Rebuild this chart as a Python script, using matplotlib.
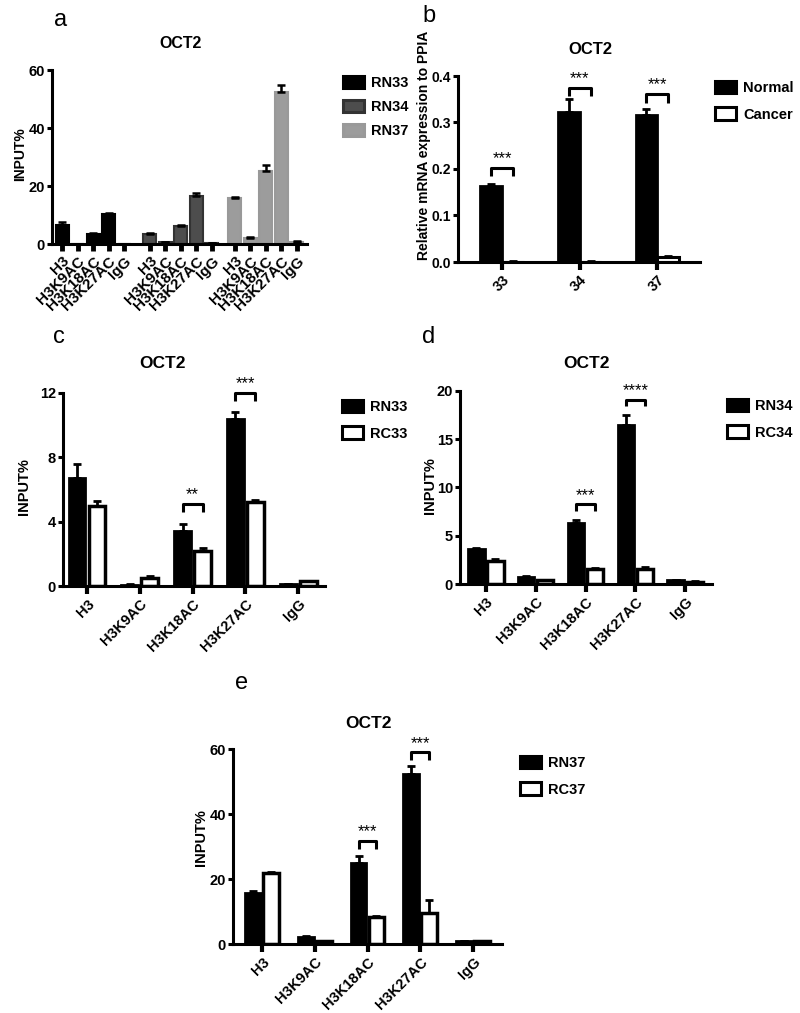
import numpy as np
import matplotlib.pyplot as plt
from matplotlib.patches import Patch

plt.rcParams['font.family'] = ['Liberation Sans', 'DejaVu Sans']
plt.rcParams['font.weight'] = 'bold'

marks = ['H3', 'H3K9AC', 'H3K18AC', 'H3K27AC', 'IgG']

# ChIP data (INPUT%)
rn33 = [6.7, 0.08, 3.4, 10.4, 0.12]
rn33_err = [0.9, 0.02, 0.45, 0.4, 0.03]
rc33 = [5.0, 0.5, 2.15, 5.2, 0.28]
rc33_err = [0.28, 0.15, 0.2, 0.15, 0.05]

rn34 = [3.6, 0.7, 6.3, 16.5, 0.4]
rn34_err = [0.15, 0.1, 0.35, 1.0, 0.05]
rc34 = [2.4, 0.4, 1.55, 1.6, 0.25]
rc34_err = [0.15, 0.05, 0.15, 0.15, 0.05]

rn37 = [15.8, 2.2, 25.0, 52.3, 0.8]
rn37_err = [0.5, 0.3, 2.1, 2.5, 0.1]
rc37 = [21.8, 0.8, 8.2, 9.5, 0.8]
rc37_err = [0.5, 0.1, 0.5, 4.1, 0.1]

# mRNA data
patients = ['33', '34', '37']
normal = [0.163, 0.322, 0.317]
normal_err = [0.004, 0.028, 0.013]
cancer = [0.001, 0.001, 0.010]
cancer_err = [0.0005, 0.0005, 0.003]

W, H = 800, 1013
fig = plt.figure(figsize=(W / 100, H / 100), dpi=100)


def make_axes(l, r, top, bottom):
    ax = fig.add_axes([l / W, 1 - bottom / H, (r - l) / W, (bottom - top) / H])
    ax.spines['top'].set_visible(False)
    ax.spines['right'].set_visible(False)
    ax.spines['left'].set_linewidth(2.2)
    ax.spines['bottom'].set_linewidth(2.2)
    ax.tick_params(axis='y', width=2.2, length=3.5, pad=1.5, labelsize=10.5)
    ax.tick_params(axis='x', width=3, length=6, pad=2)
    return ax


def ftext(x, y, s, **kw):
    fig.text(x / W, 1 - y / H, s, ha='center', va='center', **kw)


def up_err(ax, x, y, e, lw=2):
    ax.errorbar(x, y, yerr=[np.zeros(len(e)), e], fmt='none', ecolor='black',
                elinewidth=lw, capsize=3, capthick=lw)


def bracket(ax, x1, x2, y, leg, stars, fs=12):
    ax.plot([x1, x1, x2, x2], [y - leg, y, y, y - leg], color='black', lw=2.2,
            clip_on=False, solid_capstyle='butt')
    ax.text((x1 + x2) / 2, y + leg * 0.2, stars, ha='center', va='bottom',
            fontsize=fs, fontweight='normal', clip_on=False)


def legend(ax, x, y, labels, faces, edges, spacing, fs=10.5):
    handles = [Patch(facecolor=f, edgecolor=e, linewidth=2.2) for f, e in zip(faces, edges)]
    ax.legend(handles, labels, loc='upper left', bbox_to_anchor=(x / W, 1 - y / H),
              bbox_transform=fig.transFigure, frameon=False, borderpad=0,
              borderaxespad=0, handlelength=1.45, handleheight=0.9,
              handletextpad=0.5, labelspacing=spacing,
              prop={'weight': 'bold', 'size': fs})


# ---------- panel a ----------
ax = make_axes(52, 307, 70, 244)
offsets = [0, 5.66, 11.14]
series = [(rn33, rn33_err, 'black', 'black'),
          (rn34, rn34_err, '#4d4d4d', '#333333'),
          (rn37, rn37_err, '#9c9c9c', '#999999')]
xt, xl = [], []
for off, (vals, errs, fc, ec) in zip(offsets, series):
    xs = off + np.arange(5)
    ax.bar(xs, vals, width=0.84, color=fc, edgecolor=ec, linewidth=1.5)
    up_err(ax, xs, vals, errs, lw=1.8)
    xt += list(xs)
    xl += marks
ax.set_xlim(-0.65, 15.8)
ax.set_ylim(0, 60)
ax.set_yticks([0, 20, 40, 60])
ax.set_xticks(xt)
ax.set_xticklabels(xl, rotation=45, ha='right', rotation_mode='anchor', fontsize=11)
ax.tick_params(axis='x', width=3.5, length=5)
ftext(20, 154, 'INPUT%', rotation=90, fontsize=10, fontweight='bold')
ftext(181, 43, 'OCT2', fontsize=11.5, fontweight='bold')
ftext(61, 20, 'a', fontsize=17, fontweight='normal')
legend(ax, 343, 76, ['RN33', 'RN34', 'RN37'], ['black', '#4d4d4d', '#9c9c9c'],
       ['black', '#333333', '#999999'], 0.68)

# ---------- panel b ----------
ax = make_axes(458, 700, 76, 262)
xs = np.arange(3)
bw = 0.28
ax.bar(xs - 0.14, normal, width=bw, color='black', edgecolor='black', linewidth=2)
ax.bar(xs + 0.14, cancer, width=bw, color='white', edgecolor='black', linewidth=2.2)
up_err(ax, xs - 0.14, normal, normal_err)
up_err(ax, xs + 0.14, cancer, cancer_err)
ax.set_xlim(-0.57, 2.55)
ax.set_ylim(0, 0.4)
ax.set_yticks([0, 0.1, 0.2, 0.3, 0.4])
ax.set_yticklabels(['0.0', '0.1', '0.2', '0.3', '0.4'])
ax.set_xticks(xs)
ax.set_xticklabels(patients, rotation=45, ha='right', rotation_mode='anchor', fontsize=10.5)
ax.tick_params(axis='y', labelsize=10)
for x, y in zip(xs, [0.202, 0.374, 0.361]):
    bracket(ax, x - 0.14, x + 0.14, y, 0.018, '***')
ftext(424, 145, 'Relative mRNA expression to PPIA', rotation=90, fontsize=10, fontweight='bold')
ftext(590, 50, 'OCT2', fontsize=12, fontweight='bold')
ftext(429, 16, 'b', fontsize=17, fontweight='normal')
legend(ax, 715, 81, ['Normal', 'Cancer'], ['black', 'white'], ['black', 'black'], 0.85)


# ---------- panels c, d, e ----------
def pair_panel(box, rn, rn_e, rc, rc_e, xlim, ylim, yticks, off, bw,
               brackets, ylab_xy, title_xy, letter, letter_xy, leg_xy, names):
    ax = make_axes(*box)
    xs = np.arange(5)
    ax.bar(xs - off, rn, width=bw, color='black', edgecolor='black', linewidth=2)
    ax.bar(xs + off, rc, width=bw, color='white', edgecolor='black', linewidth=2.5)
    up_err(ax, xs - off, rn, rn_e)
    up_err(ax, xs + off, rc, rc_e)
    ax.set_xlim(*xlim)
    ax.set_ylim(*ylim)
    ax.set_yticks(yticks)
    ax.set_xticks(xs)
    ax.set_xticklabels(marks, rotation=45, ha='right', rotation_mode='anchor', fontsize=10.5)
    for i, y, leg, s in brackets:
        bracket(ax, i - off, i + off, y, leg, s)
    ftext(ylab_xy[0], ylab_xy[1], 'INPUT%', rotation=90, fontsize=10.5, fontweight='bold')
    ftext(title_xy[0], title_xy[1], 'OCT2', fontsize=12.5, fontweight='bold')
    ftext(letter_xy[0], letter_xy[1], letter, fontsize=17, fontweight='normal')
    legend(ax, leg_xy[0], leg_xy[1], names, ['black', 'white'], ['black', 'black'], 0.85)


pair_panel((63, 325, 393, 586), rn33, rn33_err, rc33, rc33_err,
           (-0.455, 4.51), (0, 12), [0, 4, 8, 12], 0.19, 0.32,
           [(2, 5.1, 0.47, '**'), (3, 12.0, 0.47, '***')],
           (24, 487), (162, 363), 'c', (59, 337), (342, 400), ['RN33', 'RC33'])

pair_panel((460, 712, 391, 584), rn34, rn34_err, rc34, rc34_err,
           (-0.52, 4.54), (0, 20), [0, 5, 10, 15, 20], 0.19, 0.33,
           [(2, 8.28, 0.7, '***'), (3, 19.1, 0.7, '****')],
           (430, 486), (587, 363), 'd', (429, 337), (727, 399), ['RN34', 'RC34'])

pair_panel((233, 502, 749, 944), rn37, rn37_err, rc37, rc37_err,
           (-0.55, 4.55), (0, 60), [0, 20, 40, 60], 0.17, 0.3,
           [(2, 31.8, 2.5, '***'), (3, 59.0, 2.5, '***')],
           (201, 838), (369, 723), 'e', (242, 683), (520, 756), ['RN37', 'RC37'])

fig.savefig('out.png', dpi=100)
